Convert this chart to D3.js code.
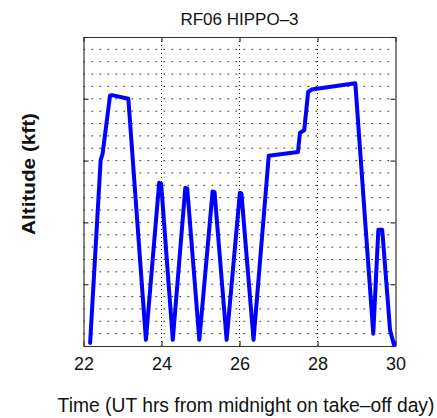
<!DOCTYPE html>
<html>
<head>
<meta charset="utf-8">
<script src="https://cdn.jsdelivr.net/npm/d3@7"></script>
<style>
  body { margin: 0; background: #fff; }
  svg { display: block; font-family: "Liberation Sans", Arial, sans-serif; }
</style>
</head>
<body>
<main></main>
<script>
// flight track (hours UT, kft)
const times = [22.17, 22.44, 22.49, 22.68, 22.73, 23.15, 23.60, 23.94, 23.99, 24.29,
               24.61, 24.66, 24.97, 25.31, 25.36, 25.67, 26.01, 26.05, 26.36, 26.75,
               27.50, 27.55, 27.66, 27.76, 27.85, 28.97, 29.22, 29.43, 29.56, 29.66,
               29.86, 29.96];
const altitudes = [0.5, 30.1, 31.1, 40.5, 40.6, 40.0, 1.0, 26.4, 26.3, 1.0,
                   25.6, 25.5, 1.0, 25.0, 24.9, 1.0, 24.8, 24.7, 1.0, 30.8,
                   31.4, 34.5, 34.9, 41.1, 41.5, 42.5, 20.4, 2.0, 18.8, 18.8,
                   2.6, 0.2];
const xTicks = [22, 24, 26, 28, 30];
const yMajor = [0, 10, 20, 30, 40, 50];
const yMinor = d3.range(2, 50, 2);

const title = "RF06 HIPPO\u20133";
const xLabel = "Time (UT hrs from midnight on take\u2013off day)";
const yLabel = "Altitude (kft)";

const width = 437, height = 418;
const margin = {top: 37, right: 41.5, bottom: 72, left: 83.5};

const svg = d3.select("main")
  .append("svg")
  .attr("width", width)
  .attr("height", height);

const xScale = d3.scaleLinear()
  .domain([22, 30])
  .range([margin.left, width - margin.right]);

const yScale = d3.scaleLinear()
  .domain([0, 50])
  .range([height - margin.bottom, margin.top]);

// horizontal dotted grid (every 2 kft)
svg.append("g")
  .selectAll("line")
  .data(yMinor)
  .enter()
  .append("line")
  .attr("x1", xScale(22))
  .attr("x2", xScale(30))
  .attr("y1", d => yScale(d))
  .attr("y2", d => yScale(d))
  .attr("stroke", "#222")
  .attr("stroke-width", 1)
  .attr("stroke-dasharray", "1.6,6.4");

// vertical dotted grid at the labelled hours
svg.append("g")
  .selectAll("line")
  .data(xTicks.slice(1, -1))
  .enter()
  .append("line")
  .attr("x1", d => xScale(d))
  .attr("x2", d => xScale(d))
  .attr("y1", yScale(0))
  .attr("y2", yScale(50))
  .attr("stroke", "#222")
  .attr("stroke-width", 1)
  .attr("stroke-dasharray", "1,3");

// axes, ticks inside, on all four sides
const xAxis = d3.axisBottom(xScale).tickValues(xTicks).tickSizeInner(-5).tickSizeOuter(0).tickPadding(11);
svg.append("g")
  .attr("id", "x-axis")
  .attr("transform", "translate(0," + yScale(0) + ")")
  .call(xAxis);

svg.append("g")
  .attr("transform", "translate(0," + yScale(50) + ")")
  .call(d3.axisTop(xScale).tickValues(xTicks).tickSizeInner(-5).tickSizeOuter(0).tickFormat(""));

svg.append("g")
  .attr("id", "y-axis")
  .attr("transform", "translate(" + xScale(22) + ",0)")
  .call(d3.axisLeft(yScale).tickValues(yMajor).tickSizeInner(-5).tickSizeOuter(0).tickFormat(""));

svg.append("g")
  .attr("transform", "translate(" + xScale(30) + ",0)")
  .call(d3.axisRight(yScale).tickValues(yMajor).tickSizeInner(-5).tickSizeOuter(0).tickFormat(""));

svg.selectAll(".domain").attr("stroke", "#333").attr("stroke-width", 1.2);
svg.selectAll(".tick line").attr("stroke", "#333").attr("stroke-width", 1.2);
svg.selectAll(".tick text")
  .style("font-family", "Liberation Sans, Arial, sans-serif")
  .style("font-size", "18px")
  .attr("fill", "#111");

// flight line
const line = d3.line()
  .x((d, i) => xScale(times[i]))
  .y(d => yScale(d));

svg.append("path")
  .datum(altitudes)
  .attr("d", line)
  .attr("fill", "none")
  .attr("stroke", "#0000ff")
  .attr("stroke-width", 4)
  .attr("stroke-linejoin", "round")
  .attr("stroke-linecap", "round");

// texts
svg.append("text")
  .attr("x", 239.5)
  .attr("y", 25)
  .attr("text-anchor", "middle")
  .style("font-size", "17px")
  .attr("fill", "#111")
  .text(title);

svg.append("text")
  .attr("x", 246)
  .attr("y", 412)
  .attr("text-anchor", "middle")
  .style("font-size", "19.3px")
  .attr("fill", "#111")
  .text(xLabel);

svg.append("text")
  .attr("transform", "translate(35,174) rotate(-90)")
  .attr("text-anchor", "middle")
  .attr("textLength", 122)
  .attr("lengthAdjust", "spacingAndGlyphs")
  .style("font-size", "18px")
  .style("font-weight", "bold")
  .attr("fill", "#111")
  .text(yLabel);
</script>
</body>
</html>
